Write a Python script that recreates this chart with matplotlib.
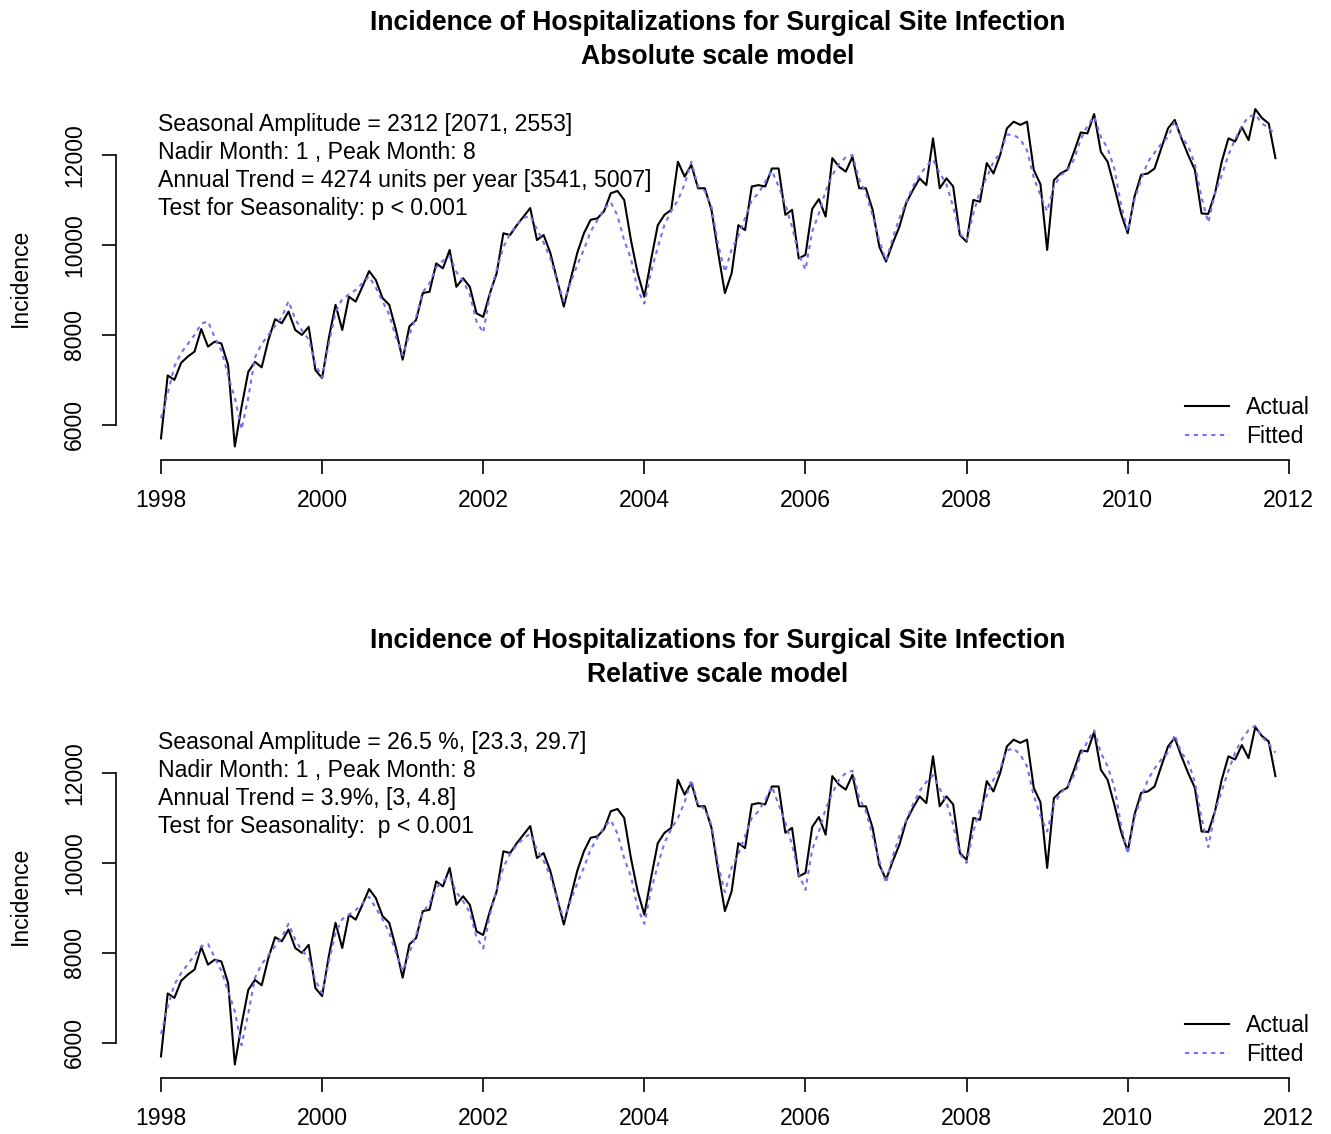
import numpy as np
import matplotlib
matplotlib.use("Agg")
import matplotlib.pyplot as plt

plt.rcParams['font.family'] = ['Liberation Sans', 'DejaVu Sans']

# ---------------- data (monthly, Jan 1998 .. Nov 2011) ----------------
start_year = 1998
actual = [
    5700, 7100, 7000, 7380, 7520, 7630, 8130, 7740, 7850, 7810, 7330, 5520,
    6400, 7180, 7400, 7280, 7890, 8350, 8260, 8520, 8110, 8000, 8180, 7220,
    7040, 7930, 8670, 8110, 8850, 8740, 9070, 9420, 9220, 8820, 8670, 8110,
    7450, 8190, 8330, 8930, 8960, 9590, 9480, 9890, 9070, 9260, 9070, 8480,
    8400, 8930, 9370, 10260, 10220, 10440, 10630, 10820, 10110, 10220, 9820, 9220,
    8630, 9220, 9820, 10260, 10560, 10590, 10750, 11150, 11200, 11000, 10110, 9370,
    8850, 9670, 10440, 10670, 10780, 11850, 11520, 11780, 11260, 11260, 10780, 9820,
    8930, 9370, 10440, 10330, 11300, 11330, 11300, 11700, 11700, 10670, 10780, 9700,
    9780, 10800, 11020, 10630, 11930, 11740, 11630, 11960, 11260, 11260, 10780, 9960,
    9630, 10040, 10410, 10930, 11220, 11480, 11330, 12370, 11260, 11480, 11300, 10220,
    10070, 11000, 10960, 11820, 11590, 12000, 12590, 12740, 12670, 12740, 11670, 11350,
    9890, 11440, 11590, 11670, 12070, 12500, 12480, 12910, 12070, 11850, 11300, 10700,
    10260, 11070, 11560, 11590, 11700, 12150, 12590, 12780, 12370, 12000, 11670, 10700,
    10690, 11150, 11850, 12370, 12300, 12620, 12330, 13020, 12820, 12700, 11930,
]
fitted_abs = [
    6150, 6700, 7300, 7600, 7800, 8000, 8250, 8300, 7950, 7650, 7100, 6600,
    5900, 6600, 7500, 7800, 8000, 8200, 8400, 8750, 8350, 8100, 7900, 7350,
    7050, 7800, 8500, 8800, 8900, 9000, 9150, 9300, 9050, 8750, 8450, 7950,
    7550, 8000, 8400, 8950, 9150, 9500, 9650, 9750, 9400, 9200, 8900, 8300,
    8050, 8900, 9450, 9950, 10250, 10450, 10600, 10650, 10350, 10050, 9700, 9200,
    8750, 9150, 9550, 9900, 10300, 10550, 10800, 10950, 10650, 10100, 9700, 9000,
    8700, 9400, 9950, 10450, 10750, 11000, 11350, 11850, 11300, 11200, 10850, 10000,
    9400, 9900, 10200, 10600, 11000, 11150, 11400, 11650, 11300, 10900, 10400, 9800,
    9450, 10300, 10700, 11200, 11550, 11800, 11950, 12000, 11450, 11150, 10650, 10100,
    9650, 10150, 10600, 10950, 11300, 11550, 11750, 11900, 11600, 11350, 10850, 10250,
    10100, 10700, 11200, 11500, 11850, 12050, 12450, 12450, 12350, 12100, 11500, 11100,
    10750, 11300, 11550, 11650, 11900, 12350, 12650, 12850, 12400, 12150, 11700, 10900,
    10300, 11000, 11450, 11850, 12050, 12250, 12400, 12750, 12400, 12200, 11800, 11050,
    10500, 11150, 11550, 12000, 12350, 12650, 12850, 12900, 12700, 12600, 12450,
]
fitted_rel = [
    6200, 6800, 7300, 7550, 7750, 7950, 8150, 8200, 7900, 7600, 7150, 6700,
    5950, 6650, 7450, 7750, 7950, 8150, 8350, 8650, 8300, 8050, 7900, 7400,
    7100, 7800, 8450, 8750, 8850, 8950, 9100, 9250, 9000, 8750, 8450, 8000,
    7600, 8000, 8400, 8900, 9100, 9450, 9600, 9700, 9350, 9150, 8900, 8350,
    8100, 8850, 9400, 9900, 10200, 10400, 10550, 10650, 10300, 10050, 9700, 9200,
    8750, 9150, 9550, 9900, 10300, 10550, 10800, 10950, 10650, 10100, 9700, 9000,
    8650, 9400, 9950, 10450, 10750, 11000, 11350, 11850, 11300, 11200, 10850, 9950,
    9350, 9900, 10200, 10600, 11000, 11150, 11400, 11700, 11300, 10900, 10400, 9750,
    9400, 10300, 10700, 11200, 11550, 11850, 12000, 12050, 11450, 11150, 10600, 10050,
    9550, 10150, 10600, 10950, 11300, 11600, 11800, 11950, 11650, 11350, 10850, 10200,
    10000, 10700, 11200, 11500, 11850, 12100, 12500, 12550, 12400, 12150, 11500, 11050,
    10700, 11300, 11550, 11700, 11950, 12400, 12700, 12950, 12450, 12150, 11700, 10850,
    10200, 11000, 11450, 11850, 12100, 12300, 12450, 12850, 12450, 12250, 11800, 11000,
    10350, 11150, 11600, 12050, 12450, 12750, 12950, 13050, 12800, 12650, 12450,
]

title_line1 = "Incidence of Hospitalizations for Surgical Site Infection"
subtitles = ["Absolute scale model", "Relative scale model"]
annotations = [
    ["Seasonal Amplitude = 2312 [2071, 2553]",
     "Nadir Month: 1 , Peak Month: 8",
     "Annual Trend = 4274 units per year [3541, 5007]",
     "Test for Seasonality: p < 0.001"],
    ["Seasonal Amplitude = 26.5 %, [23.3, 29.7]",
     "Nadir Month: 1 , Peak Month: 8",
     "Annual Trend = 3.9%, [3, 4.8]",
     "Test for Seasonality:  p < 0.001"],
]
x_ticks = [1998, 2000, 2002, 2004, 2006, 2008, 2010, 2012]
y_ticks = [6000, 8000, 10000, 12000]
legend_labels = ["Actual", "Fitted"]

# ---------------- figure ----------------
W, H = 1331, 1134
fig = plt.figure(figsize=(W / 100, H / 100), dpi=100)

t = start_year + np.arange(len(actual)) / 12.0
xr = t[-1] - t[0]
yr = max(actual) - min(actual)
xlim = (t[0] - 0.04 * xr, t[-1] + 0.04 * xr)
ylim = (min(actual) - 0.04 * yr, max(actual) + 0.04 * yr)

fs = 16.6
blue = '#7272ee'

for k, fitted in enumerate([fitted_abs, fitted_rel]):
    off = 618 * k
    left, right = 116.4, 1320.0
    top, bottom = 95.6 + off, 460.0 + off
    ax = fig.add_axes([left / W, 1 - bottom / H, (right - left) / W, (bottom - top) / H])
    ax.plot(t, actual, color='black', lw=1.5, label=legend_labels[0])
    ax.plot(t, fitted, color=blue, lw=1.5, ls=(0, (2.0, 2.2)), label=legend_labels[1])
    ax.set_xlim(*xlim)
    ax.set_ylim(*ylim)
    for s in ['top', 'right']:
        ax.spines[s].set_visible(False)
    ax.spines['left'].set_bounds(y_ticks[0], y_ticks[-1])
    ax.spines['bottom'].set_bounds(x_ticks[0], x_ticks[-1])
    for s in ['left', 'bottom']:
        ax.spines[s].set_linewidth(1.2)
    ax.set_xticks(x_ticks)
    ax.set_yticks(y_ticks)
    ax.tick_params(axis='both', length=10, width=1.2, labelsize=fs, direction='out')
    ax.tick_params(axis='x', pad=11)
    ax.tick_params(axis='y', pad=12)
    for lab in ax.get_yticklabels():
        lab.set_rotation(90)
        lab.set_va('center')
    ax.set_ylabel("Incidence", fontsize=fs)
    ax.yaxis.set_label_coords((32 - left) / (right - left), 0.5)
    # annotation lines
    for i, line in enumerate(annotations[k]):
        ypix = 125 + 27.7 * i + off
        ax.text((158 - left) / (right - left), (bottom - ypix) / (bottom - top), line,
                transform=ax.transAxes, fontsize=fs, ha='left', va='center')
    ax.legend(loc='upper left',
              bbox_to_anchor=((1185 - left) / (right - left), (bottom - (396 + off)) / (bottom - top)),
              frameon=False, fontsize=fs, handlelength=1.9, handletextpad=0.75,
              labelspacing=0.25, borderpad=0, borderaxespad=0)
    # titles
    fig.text(718 / W, 1 - (23 + off) / H, title_line1, ha='center', va='center',
             fontsize=19.2, fontweight='bold')
    fig.text(718 / W, 1 - (57 + off) / H, subtitles[k], ha='center', va='center',
             fontsize=19.2, fontweight='bold')

fig.savefig('out.png', dpi=100)
